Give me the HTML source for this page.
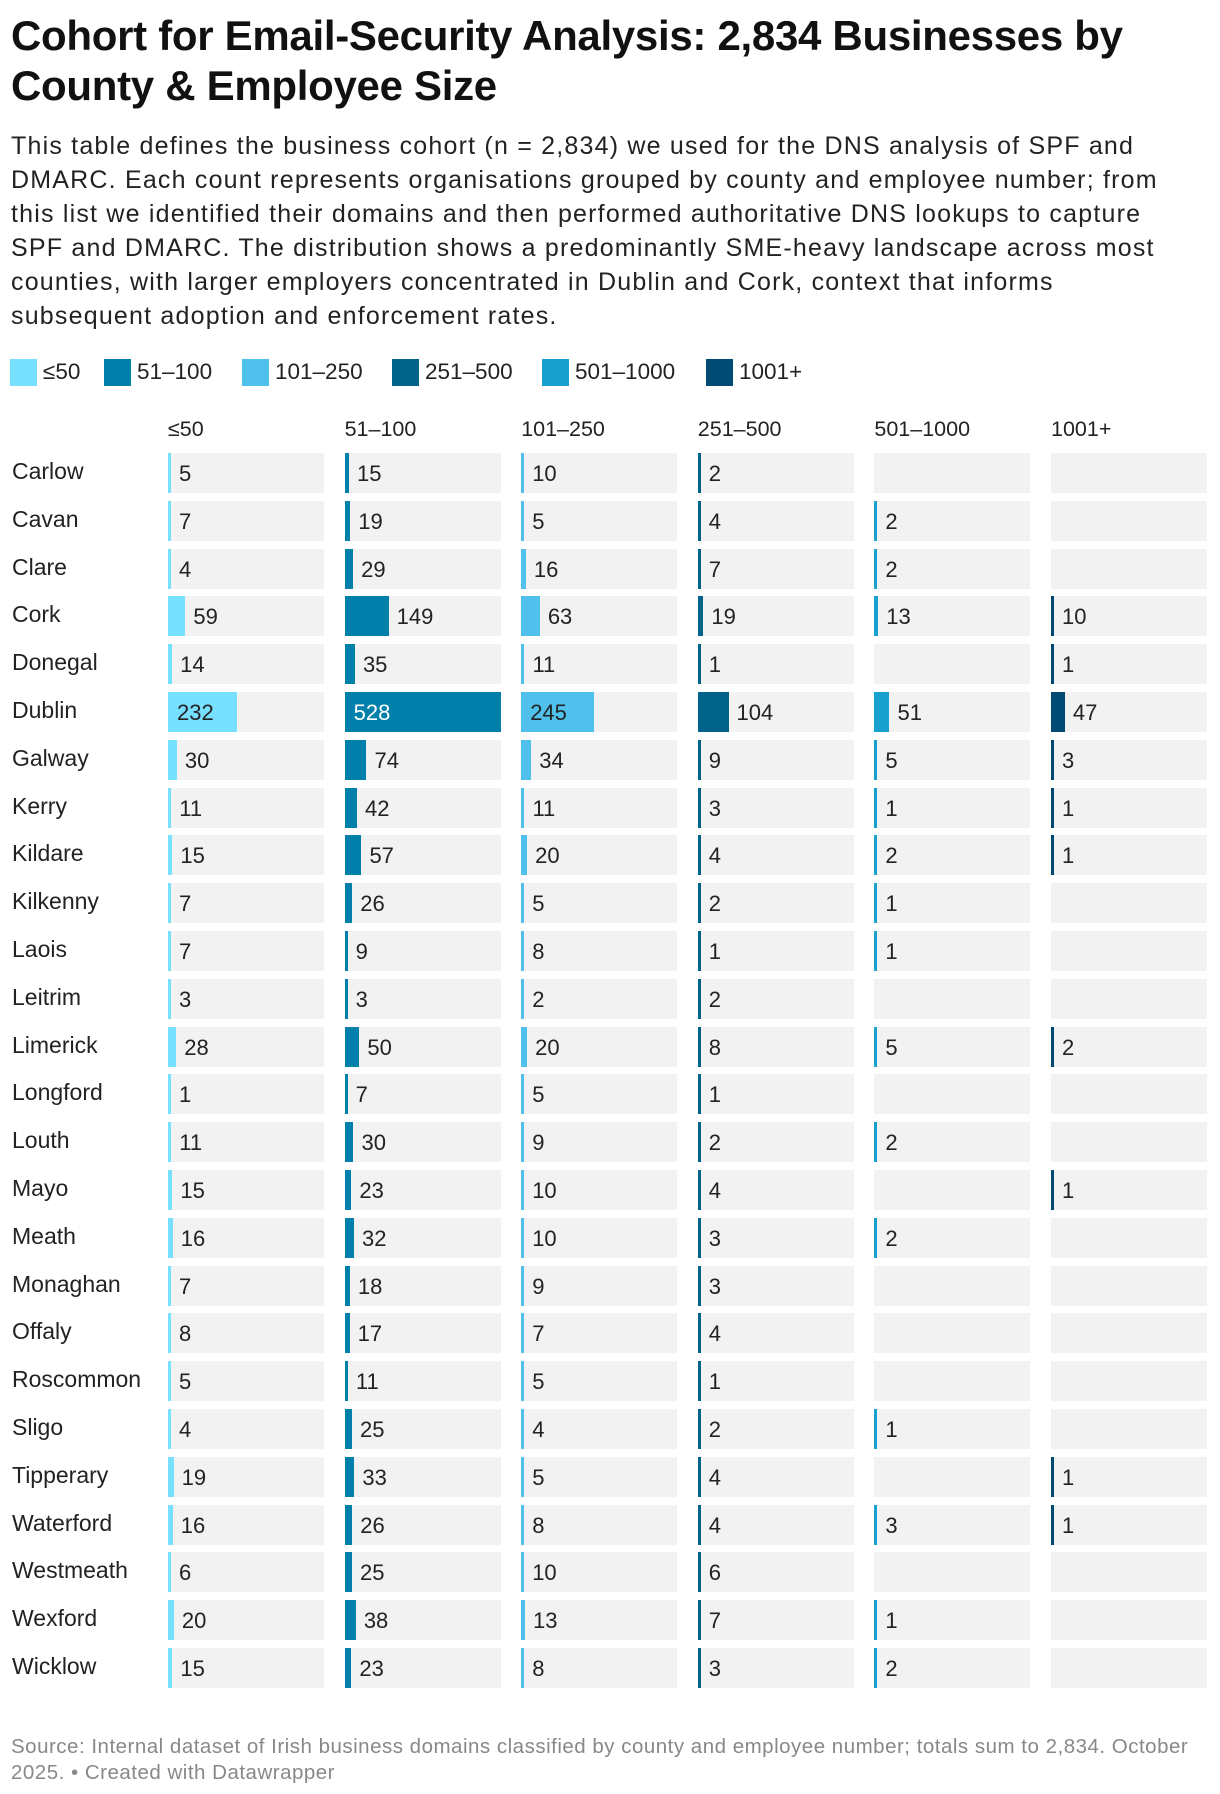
<!DOCTYPE html>
<html><head><meta charset="utf-8">
<style>
body{margin:0;background:#fff;font-family:"Liberation Sans",sans-serif;color:#1d1d1d;}
#wrap{position:relative;width:1220px;height:1794px;overflow:hidden;}
.t{position:absolute;white-space:nowrap;}
h1{position:absolute;left:11px;top:11px;margin:0;font-size:42px;line-height:50px;font-weight:bold;letter-spacing:-0.3px;color:#111;}
#desc{position:absolute;left:11px;top:129px;font-size:25px;line-height:34px;color:#222;white-space:nowrap;letter-spacing:1.2px;}
.cell{position:absolute;background:#f2f2f2;}
.bar{position:absolute;}
.lbl{position:absolute;font-size:22px;line-height:40px;white-space:nowrap;}
#footer{position:absolute;left:11px;top:1734px;font-size:20.5px;line-height:26px;color:#888;white-space:nowrap;letter-spacing:0.5px;}
</style></head>
<body><div id="wrap">
<h1>Cohort for Email-Security Analysis: 2,834 Businesses by<br>County &amp; Employee Size</h1>
<div id="desc">This table defines the business cohort (n = 2,834) we used for the DNS analysis of SPF and<br>DMARC. Each count represents organisations grouped by county and employee number; from<br>this list we identified their domains and then performed authoritative DNS lookups to capture<br>SPF and DMARC. The distribution shows a predominantly SME-heavy landscape across most<br>counties, with larger employers concentrated in Dublin and Cork, context that informs<br>subsequent adoption and enforcement rates.</div>
<div id="footer">Source: Internal dataset of Irish business domains classified by county and employee number; totals sum to 2,834. October<br>2025. • Created with Datawrapper</div>
</div>
<script>
const categories=["≤50","51–100","101–250","251–500","501–1000","1001+"];
const counties=["Carlow","Cavan","Clare","Cork","Donegal","Dublin","Galway","Kerry","Kildare","Kilkenny","Laois","Leitrim","Limerick","Longford","Louth","Mayo","Meath","Monaghan","Offaly","Roscommon","Sligo","Tipperary","Waterford","Westmeath","Wexford","Wicklow"];
const le50=[5,7,4,59,14,232,30,11,15,7,7,3,28,1,11,15,16,7,8,5,4,19,16,6,20,15];
const v51_100=[15,19,29,149,35,528,74,42,57,26,9,3,50,7,30,23,32,18,17,11,25,33,26,25,38,23];
const v101_250=[10,5,16,63,11,245,34,11,20,5,8,2,20,5,9,10,10,9,7,5,4,5,8,10,13,8];
const v251_500=[2,4,7,19,1,104,9,3,4,2,1,2,8,1,2,4,3,3,4,1,2,4,4,6,7,3];
const v501_1000=[0,2,2,13,0,51,5,1,2,1,1,0,5,0,2,0,2,0,0,0,1,0,3,0,1,2];
const v1001=[0,0,0,10,1,47,3,1,1,0,0,0,2,0,0,1,0,0,0,0,0,1,1,0,0,0];
const series=[le50,v51_100,v101_250,v251_500,v501_1000,v1001];
const colors=["#76e0fe","#0080ab","#4fc1ec","#00638a","#18a0cf","#004b73"];
const darkText=[true,false,true,false,false,false];
const maxVal=528;
const wrap=document.getElementById('wrap');
const colX=i=>168+i*176.6;
const colW=156;
const rowY=j=>453+j*47.8;
const rowH=40;
const xs=v=>v/maxVal*colW;
const legX=[10,104,242,392,542,706];
categories.forEach((c,i)=>{
  const sw=document.createElement('div');
  
  
  sw.style.cssText=`position:absolute;left:${legX[i]}px;top:359px;width:27px;height:27px;background:${colors[i]}`;
  wrap.appendChild(sw);
  const lt=document.createElement('div');
  lt.className='t';
  
  
  lt.style.cssText=`left:${legX[i]+33}px;top:357px;font-size:22.5px;line-height:30px;color:#222`;
  lt.textContent=c;
  wrap.appendChild(lt);
  const h=document.createElement('div');
  h.className='t';
  
  
  h.style.cssText=`left:${colX(i)}px;top:414px;font-size:21.5px;line-height:30px;color:#222`;
  h.textContent=c;
  wrap.appendChild(h);
});
counties.forEach((name,j)=>{
  const y=rowY(j);
  const rl=document.createElement('div');
  rl.className='t';
  
  
  rl.style.cssText=`left:12px;top:${y-2}px;font-size:23px;line-height:40px;color:#222`;
  rl.textContent=name;
  wrap.appendChild(rl);
  series.forEach((arr,i)=>{
    const x=colX(i);const v=arr[j];
    const cell=document.createElement('div');
    cell.className='cell';
    
    
    cell.style.cssText=`left:${x}px;top:${y}px;width:${colW}px;height:${rowH}px`;
    wrap.appendChild(cell);
    if(!v)return;
    const w=Math.max(3,xs(v));
    const b=document.createElement('div');
    b.className='bar';
    
    
    b.style.cssText=`left:${x}px;top:${y}px;width:${w}px;height:${rowH}px;background:${colors[i]}`;
    wrap.appendChild(b);
    const l=document.createElement('div');
    l.className='lbl';
    
    
    const inside=w>60;
    const lx=inside?x+9:x+w+8;
    l.style.cssText=`left:${lx}px;top:${y+1}px;color:${inside&&!darkText[i]?'#fff':'#222'}`;
    l.textContent=v;
    wrap.appendChild(l);
  });
});
</script>
</body></html>
